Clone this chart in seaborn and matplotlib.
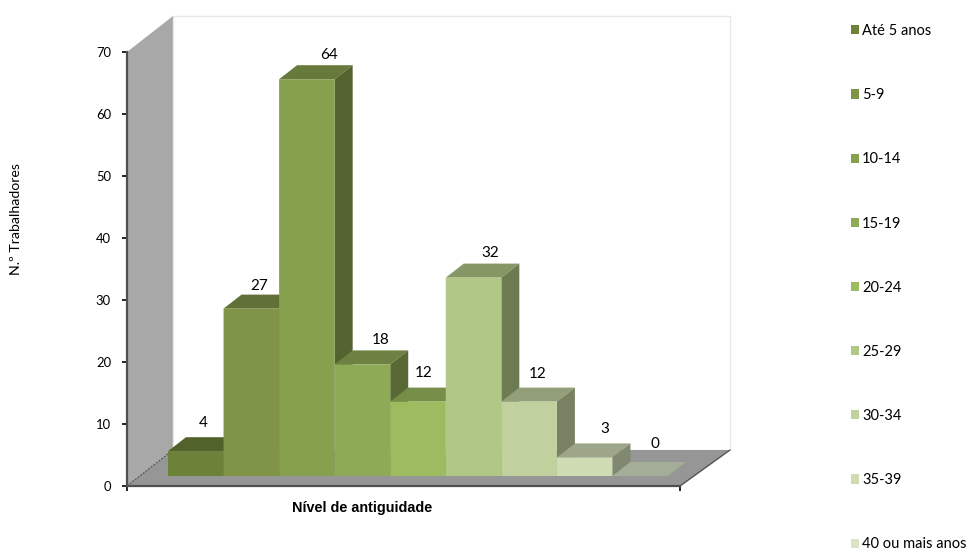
import matplotlib
matplotlib.use('Agg')
import matplotlib.pyplot as plt
import seaborn as sns
from matplotlib.colors import to_rgb
from matplotlib.patches import Patch, Polygon

# chart values
categories = ['Até 5 anos', '5-9', '10-14', '15-19', '20-24', '25-29', '30-34', '35-39', '40 ou mais anos']
workers = [4, 27, 64, 18, 12, 32, 12, 3, 0]
colors = ['#6B8238', '#7F9447', '#87A04E', '#8FAA57', '#9DBB5F', '#B0C786', '#C1D19E', '#CEDBB3', '#D8E3C8']
y_ticks = [0, 10, 20, 30, 40, 50, 60, 70]

# label offsets from the top of each bar, in pixels (they are uneven in the original)
label_dx = [7, 8, 22, 18, 6, 17, 9, 20, 15]
label_dy = [28, 23, 24, 24, 29, 25, 28, 28, 32]

W, H = 973, 552
PX = 72 / 100  # points per pixel


def axes_px(fig, left, right, bottom, top):
    """Axes placed by pixel edges of the image, y counted from the top."""
    return fig.add_axes([left / W, (H - bottom) / H, (right - left) / W, (bottom - top) / H])


def shade(color, factor):
    return tuple(c * factor for c in to_rgb(color))


sns.set_style('white')
plt.rcParams['font.family'] = ['Lato', 'DejaVu Sans']

fig = plt.figure(figsize=(W / 100, H / 100), dpi=100)

# frame: walls, floor and the value axis
frame = axes_px(fig, 127, 680, 486, 52)
frame.set_xlim(0, 553)
frame.set_ylim(0, 70)
frame.patch.set_alpha(0)

unit = 434 / 70  # pixels for one worker
wall_dy = 36 / unit
frame.add_patch(Polygon([(0, 0), (46, wall_dy), (46, 70 + wall_dy), (0, 70)],
                        fc='#A8A8A8', ec='none', clip_on=False, zorder=0))
frame.add_patch(Polygon([(46, wall_dy), (603, wall_dy), (603, 70 + wall_dy), (46, 70 + wall_dy)],
                        fc='white', ec='#E8E8E8', lw=1, clip_on=False, zorder=0))
frame.add_patch(Polygon([(0, 0), (553, 0), (603, wall_dy), (46, wall_dy)],
                        fc='#969696', ec='none', clip_on=False, zorder=0.5))
frame.plot([0, 46], [0, wall_dy], color='#555555', lw=0.8, ls=(0, (2, 1)), clip_on=False, zorder=0.6)
frame.plot([553, 603], [0, wall_dy], color='#555555', lw=1, clip_on=False, zorder=0.6)

sns.despine(ax=frame, top=True, right=True)
for side in ['left', 'bottom']:
    frame.spines[side].set_color('#505050')
    frame.spines[side].set_linewidth(1.6)
frame.set_yticks(y_ticks)
frame.set_xticks([0, 553], labels=['', ''])
frame.tick_params(axis='y', length=3.5, width=1.2, color='black', left=True, labelsize=9.4, pad=8, labelcolor='black')
frame.tick_params(axis='x', length=3.5, width=1.2, color='black', bottom=True)

# bars sit on the floor, offset from the frame
ax = axes_px(fig, 168, 668, 476, 42)
ax.patch.set_alpha(0)
sns.barplot(x=categories, y=workers, hue=categories, palette=colors, width=1, saturation=1,
            legend=False, ax=ax, zorder=2, edgecolor='none', linewidth=0)
ax.set_xlim(-0.5, 8.5)
ax.set_ylim(0, 70)
ax.axis('off')
for bar in ax.patches:
    bar.set_snap(False)

dx = 18 / (500 / 9)
dy = 14 / unit
for i, (val, col) in enumerate(zip(workers, colors)):
    l, r = i - 0.5, i + 0.5
    ax.add_patch(Polygon([(l, val), (r, val), (r + dx, val + dy), (l + dx, val + dy)],
                         fc=shade(col, 0.76), ec='none', clip_on=False, zorder=1))
    ax.add_patch(Polygon([(r, 0), (r + dx, dy), (r + dx, val + dy), (r, val)],
                         fc=shade(col, 0.62), ec='none', clip_on=False, zorder=1))
    ax.annotate(str(val), (i, val), xytext=(label_dx[i] * PX, label_dy[i] * PX),
                textcoords='offset points', ha='center', va='center',
                fontsize=11, color='black', annotation_clip=False, zorder=3)

fig.text(16 / W, 1 - 219 / H, 'N.º Trabalhadores', rotation=90, ha='center', va='center',
         fontsize=10.2, color='black')
fig.text(362 / W, 1 - 508 / H, 'Nível de antiguidade', ha='center', va='center',
         fontsize=10.4, fontweight='bold', family='Liberation Sans', color='black')

handles = [Patch(fc=c, ec='none', label=n) for c, n in zip(colors, categories)]
fig.legend(handles=handles, loc='upper left', bbox_to_anchor=(851 / W, 1 - 24 / H), frameon=False,
           fontsize=10.5, labelspacing=3.44, handlelength=0.58, handleheight=0.58,
           handletextpad=0.18, borderpad=0, borderaxespad=0, labelcolor='black')

fig.savefig('out.png', dpi=100)
